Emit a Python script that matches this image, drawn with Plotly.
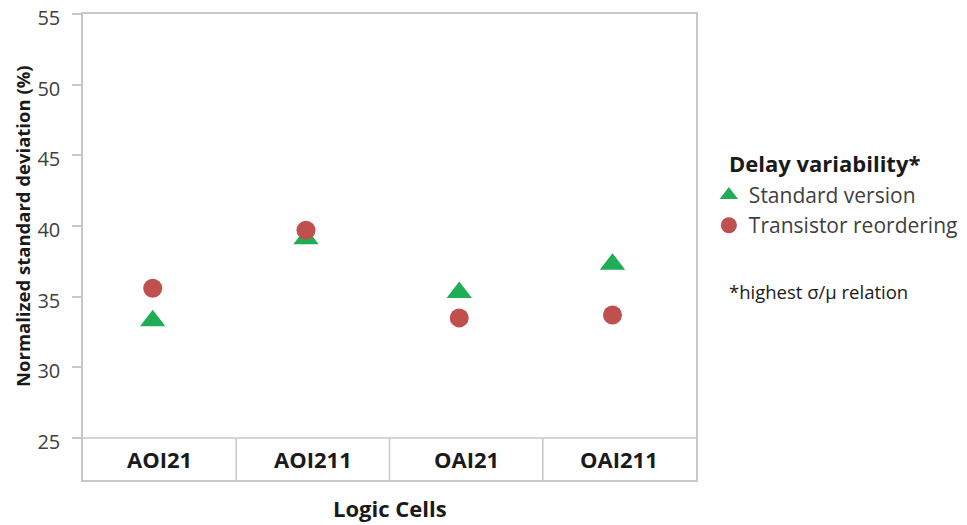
import plotly.graph_objects as go

categories = ["AOI21", "AOI211", "OAI21", "OAI211"]
standard_version = [33.3, 39.1, 35.3, 37.3]
transistor_reordering = [35.6, 39.7, 33.5, 33.7]
y_ticks = [25, 30, 35, 40, 45, 50, 55]

FONT = "Open Sans"
GRID = "#c8c8c8"
x_idx = list(range(len(categories)))
y_min, y_max = 22.03, 55

fig = go.Figure()
fig.add_trace(go.Scatter(
    x=x_idx, y=standard_version, mode="markers", name="Standard version",
    marker=dict(symbol="triangle-up", size=22, color="#1fae55"),
))
fig.add_trace(go.Scatter(
    x=x_idx, y=transistor_reordering, mode="markers", name="Transistor reordering",
    marker=dict(symbol="circle", size=19, color="#c0504d"),
))

shapes = []
# horizontal line at y=25 separating the category table
shapes.append(dict(type="line", xref="paper", yref="y", x0=0, x1=1, y0=25, y1=25,
                   line=dict(color=GRID, width=1.5)))
n = len(categories)
for k in range(1, n):
    shapes.append(dict(type="line", xref="paper", yref="y", x0=k / n, x1=k / n,
                       y0=y_min, y1=25, line=dict(color=GRID, width=1.5)))

annotations = []
for i, c in enumerate(categories):
    annotations.append(dict(text=f"<b>{c}</b>", xref="paper", yref="y",
                            x=(i + 0.5) / n, y=(25 + y_min) / 2, showarrow=False,
                            xanchor="center", yanchor="middle",
                            font=dict(family=FONT, size=22, color="#1a1a1a")))
annotations.append(dict(text="<b>Normalized standard deviation (%)</b>", xref="paper", yref="y",
                        x=0, y=40, xshift=-61, textangle=-90, showarrow=False,
                        xanchor="center", yanchor="middle",
                        font=dict(family=FONT, size=18.5, color="#1a1a1a")))
annotations.append(dict(text="<b>Logic Cells</b>", xref="paper", yref="paper",
                        x=0.5, y=0, yshift=-28, showarrow=False,
                        xanchor="center", yanchor="middle",
                        font=dict(family=FONT, size=22, color="#1a1a1a")))
annotations.append(dict(text="<b>Delay variability*</b>", xref="paper", yref="paper",
                        x=1.0506, y=0.6807, showarrow=False,
                        xanchor="left", yanchor="middle",
                        font=dict(family=FONT, size=22, color="#1a1a1a")))
annotations.append(dict(text="*highest σ/μ relation", xref="paper", yref="paper",
                        x=1.0506, y=0.4037, showarrow=False,
                        xanchor="left", yanchor="middle",
                        font=dict(family=FONT, size=18.5, color="#1a1a1a")))

# the page body adds an 8px offset, so the figure is 8px smaller and margins shifted
fig.update_layout(
    width=959, height=517,
    margin=dict(l=74.7, r=271, t=6.3, b=45, pad=0, autoexpand=False),
    paper_bgcolor="white", plot_bgcolor="white",
    showlegend=True,
    legend=dict(x=1.021, y=0.655, xanchor="left", yanchor="top",
                font=dict(family=FONT, size=21, color="#404040"),
                itemwidth=30, bgcolor="rgba(0,0,0,0)"),
    shapes=shapes, annotations=annotations,
    xaxis=dict(range=[-0.455, 3.545], showticklabels=False, ticks="",
               showgrid=False, zeroline=False, showline=True, mirror=True,
               linecolor=GRID, linewidth=1.5, fixedrange=True, automargin=False),
    yaxis=dict(range=[y_min, y_max], tickvals=y_ticks, ticks="outside", ticklen=9,
               tickcolor=GRID, tickwidth=1.5, showgrid=False, zeroline=False,
               showline=True, mirror=True, linecolor=GRID, linewidth=1.5,
               ticklabelstandoff=8, automargin=False, ticklabeloverflow="allow",
               ticklabelshift=4,
               tickfont=dict(family=FONT, size=20, color="#404040")),
)

fig.write_html("out.html")
